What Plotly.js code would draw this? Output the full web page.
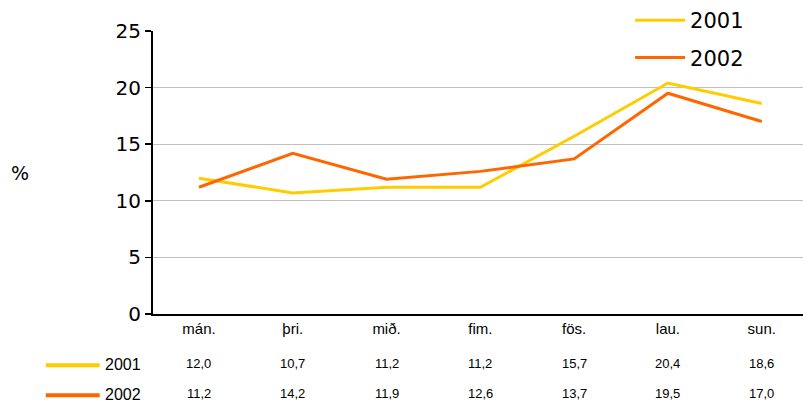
<!DOCTYPE html>
<html><head><meta charset="utf-8">
<script src="https://cdn.plot.ly/plotly-3.0.1.min.js"></script>
<style>body{margin:0;background:#fff}#c{width:803px;height:403px}</style>
</head><body><div id="c"></div>
<script>
const days = ["mán.", "þri.", "mið.", "fim.", "fös.", "lau.", "sun."];
const y2001 = [12.0, 10.7, 11.2, 11.2, 15.7, 20.4, 18.6];
const y2002 = [11.2, 14.2, 11.9, 12.6, 13.7, 19.5, 17.0];
const seriesNames = ["2001", "2002"];
const colors = ["#FFCC00", "#FF6600"];

const fmt = v => v.toFixed(1).replace(".", ",");
const series = [y2001, y2002];

const traces = series.map((ys, i) => ({
  x: days, y: ys, type: "scatter", mode: "lines", name: seriesNames[i],
  line: {color: colors[i], width: 3}, legendgroup: "g" + i
}));

const rowY = [-0.175, -0.281];
const annotations = [];
const shapes = [
  {type: "rect", xref: "paper", yref: "paper", x0: 0.657, x1: 1.01, y0: 0.93, y1: 1.12,
   fillcolor: "#fff", line: {width: 0}, layer: "above"}
];
series.forEach((ys, i) => {
  ys.forEach((v, j) => annotations.push({
    x: days[j], y: rowY[i], xref: "x", yref: "paper", text: fmt(v), showarrow: false,
    font: {family: "Liberation Sans, Arial", size: 13, color: "#000"}, xanchor: "center", yanchor: "middle"
  }));
  annotations.push({
    x: -0.077, y: rowY[i] - 0.004, xref: "paper", yref: "paper", text: seriesNames[i], showarrow: false,
    font: {family: "Liberation Sans, Arial", size: 16, color: "#000"}, xanchor: "left", yanchor: "middle"
  });
  shapes.push({type: "line", xref: "paper", yref: "paper", x0: -0.165, x1: -0.082,
    y0: rowY[i] - 0.006, y1: rowY[i] - 0.006, line: {color: colors[i], width: 4}});
});
annotations.push({x: -0.205, y: 0.5, xref: "paper", yref: "paper", text: "%", showarrow: false,
  font: {family: "DejaVu Sans, Verdana", size: 19, color: "#000"}, xanchor: "center", yanchor: "middle"});

const layout = {
  width: 803, height: 403,
  margin: {l: 153, r: 0, t: 29, b: 89, pad: 0},
  paper_bgcolor: "#fff", plot_bgcolor: "#fff",
  showlegend: true,
  legend: {x: 0.734, xanchor: "left", y: 1.11, yanchor: "top", bgcolor: "rgba(255,255,255,0)",
    font: {family: "DejaVu Sans, Verdana", size: 21, color: "#000"},
    traceorder: "grouped", tracegroupgap: 7, itemwidth: 50},
  xaxis: {type: "category", showgrid: false, showline: true, linecolor: "#000", linewidth: 2,
    ticks: "", tickfont: {family: "Liberation Sans, Arial", size: 15, color: "#000"},
    range: [-0.49, 6.44], fixedrange: true, zeroline: false},
  yaxis: {range: [0, 25], dtick: 5, showgrid: true, gridcolor: "#c0c0c0", gridwidth: 1,
    showline: true, linecolor: "#000", linewidth: 2, ticks: "outside", ticklen: 6, tickcolor: "#000",
    tickwidth: 1.5, zeroline: false, tickfont: {family: "DejaVu Sans, Verdana", size: 20, color: "#000"}},
  annotations, shapes
};
Plotly.newPlot("c", traces, layout, {displayModeBar: false, staticPlot: true});
</script></body></html>
